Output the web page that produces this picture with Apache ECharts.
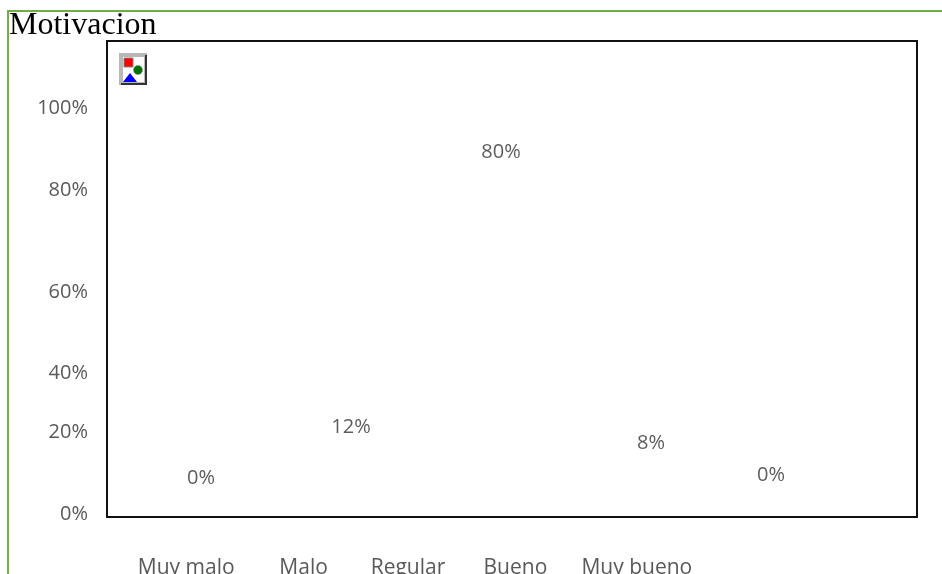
<!DOCTYPE html>
<html><head><meta charset="utf-8">
<style>html,body{margin:0;padding:0;background:#fff;overflow:hidden}#c{width:942px;height:574px}</style>
<script src="https://cdn.jsdelivr.net/npm/echarts@6/dist/echarts.min.js"></script>
</head><body><div id="c"></div>
<script>
const categories = ['Muy malo', 'Malo', 'Regular', 'Bueno', 'Muy bueno'];
const values = [0, 12, 80, 8, 0];
const markNames = ['a', 'b', 'c', 'd', 'e'];
const tickValues = [0, 20, 40, 60, 80, 100];
// the source's value axis is uneven: where each tick sits, in even axis units
const tickStops = [0, 20.2, 34.7, 54.7, 79.8, 100];
const title = 'Motivacion';

function toAxis(v) {
  for (let i = 1; i < tickValues.length; i++) {
    if (v <= tickValues[i]) {
      const t = (v - tickValues[i - 1]) / (tickValues[i] - tickValues[i - 1]);
      return tickStops[i - 1] + t * (tickStops[i] - tickStops[i - 1]);
    }
  }
  return tickStops[tickStops.length - 1];
}
const chart = echarts.init(document.getElementById('c'), null, {renderer: 'canvas'});
const FONT = '"Open Sans", "Noto Sans", sans-serif';
const labelPads = [[0,0,0,0], [0,0,0,10], [0,6,0,0], [0,16,0,0], [0,0,0,2]];
const labelNudges = [[0, 2], [0, 0], [0, 0], [0, 0], [-30, -1]];
chart.setOption({
  animation: false,
  backgroundColor: '#fff',
  title: {text: title, left: 9, top: 10, padding: 0,
    textStyle: {fontFamily: '"Liberation Serif", serif', fontSize: 32, fontWeight: 'normal', color: '#000'}},
  grid: [
    {left: 107, top: 41, width: 810, height: 476, show: true, borderColor: '#111', borderWidth: 2, backgroundColor: 'transparent', outerBoundsMode: 'none'},
    {left: 126, top: 42, width: 750, height: 476, outerBoundsMode: 'none'},
    {left: 130, top: 41, width: 562, height: 476, outerBoundsMode: 'none'}
  ],
  xAxis: [
    {gridIndex: 0, type: 'category', data: markNames, show: false},
    {gridIndex: 1, type: 'category', data: markNames, show: false},
    {gridIndex: 2, type: 'category',
      data: categories.map((c, i) => ({value: c, textStyle: {padding: labelPads[i]}})),
      axisLine: {show: false}, axisTick: {show: false}, splitLine: {show: false},
      axisLabel: {interval: 0, margin: 41, fontFamily: FONT, fontSize: 21, color: '#595959'}}
  ],
  yAxis: [
    {gridIndex: 0, type: 'value', min: -1, max: 116.3, show: false},
    {gridIndex: 1, type: 'value', min: -1, max: 116.3,
      axisLine: {show: false}, axisTick: {show: false}, splitLine: {show: false},
      axisLabel: {margin: 38, fontFamily: FONT, fontSize: 20, color: '#595959',
        customValues: tickStops,
        formatter: v => {
          const i = tickStops.indexOf(v);
          return i < 0 ? '' : tickValues[i] + '%';
        }}},
    {gridIndex: 2, type: 'value', min: -1, max: 116.3, show: false}
  ],
  series: [{
    type: 'scatter', xAxisIndex: 1, yAxisIndex: 1, symbolSize: 1,
    itemStyle: {color: 'transparent'},
    data: values.map(v => toAxis(v)),
    label: {show: true, position: 'top', distance: 27, fontFamily: FONT, fontSize: 20, color: '#333',
      formatter: p => values[p.dataIndex] + '%'},
    labelLayout: p => ({dx: labelNudges[p.dataIndex][0], dy: labelNudges[p.dataIndex][1], hideOverlap: false})
  }],
  graphic: [
    {type: 'rect', silent: true, shape: {x: 8, y: 11, width: 1000, height: 700},
      style: {fill: 'none', stroke: '#70ad47', lineWidth: 2}},
    {type: 'group', silent: true, x: 119, y: 53, children: [
      {type: 'rect', shape: {x: 0, y: 0, width: 28, height: 32}, style: {fill: '#b8b8b8'}},
      {type: 'rect', shape: {x: 2, y: 2, width: 26, height: 30}, style: {fill: '#333'}},
      {type: 'rect', shape: {x: 2, y: 2, width: 24, height: 28}, style: {fill: '#b8b8b8'}},
      {type: 'rect', shape: {x: 4, y: 4, width: 21, height: 25}, style: {fill: '#fff'}},
      {type: 'rect', shape: {x: 5, y: 5, width: 9, height: 9}, style: {fill: '#f00', stroke: '#808080', lineWidth: 1}},
      {type: 'circle', shape: {cx: 19, cy: 17, r: 4.5}, style: {fill: '#007000', stroke: '#808080', lineWidth: 0.5}},
      {type: 'polygon', shape: {points: [[4, 29], [18, 29], [11, 20]]}, style: {fill: '#00f'}}
    ]}
  ]
});
</script></body></html>
